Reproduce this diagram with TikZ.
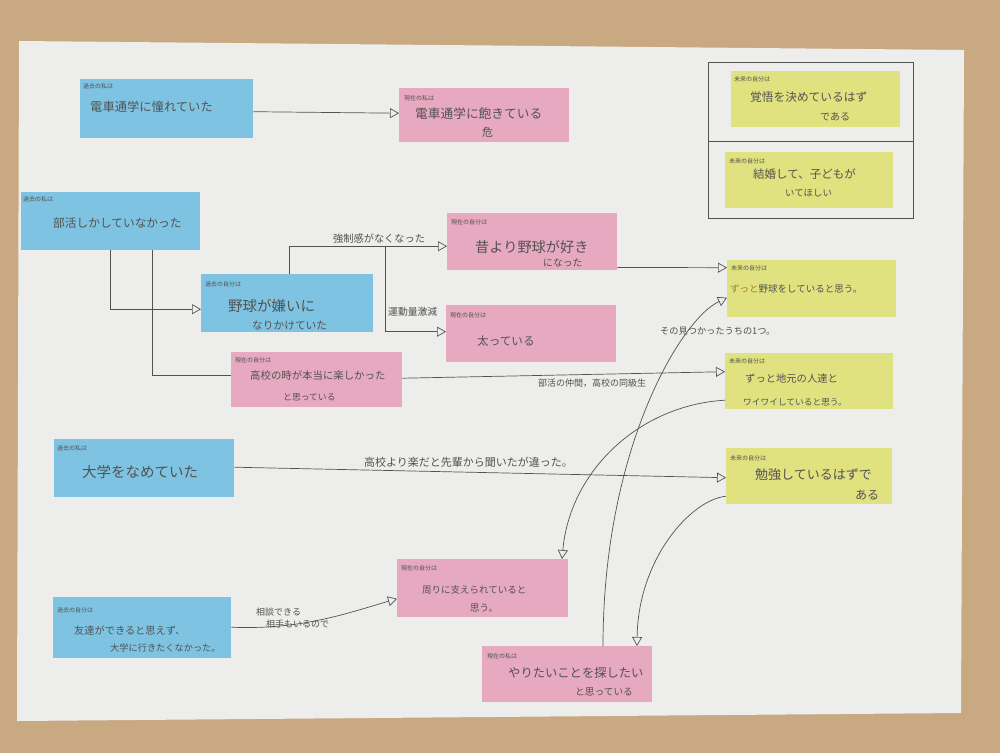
\documentclass[tikz,border=0pt]{standalone}
\usepackage{fontspec}
\newfontfamily\jp{Noto Sans CJK JP}
\usetikzlibrary{arrows.meta,calc}

\definecolor{table}{HTML}{C9A982}
\definecolor{paper}{HTML}{EDEDEB}
\definecolor{noteblue}{HTML}{7FC3E2}
\definecolor{notepink}{HTML}{E7A9C0}
\definecolor{noteyellow}{HTML}{E0E27F}
\definecolor{ink}{HTML}{525252}
\definecolor{amber}{HTML}{B07A30}

\tikzset{
  note/.style={anchor=north west, inner sep=0pt, draw=none},
  past/.style={note, fill=noteblue},
  now/.style={note, fill=notepink},
  future/.style={note, fill=noteyellow},
  tag/.style={anchor=west, inner sep=0pt, text=ink, font=\jp\fontsize{6}{6}\selectfont},
  say/.style={anchor=west, inner sep=0pt, text=ink, font=\jp\fontsize{#1}{#1}\selectfont},
  wire/.style={draw=ink, line width=0.7pt},
  flow/.style={wire, -{Triangle[open, length=9pt, width=10pt]}},
}

% sticky note: name, style, x, y (top-left), width, height
\newcommand\sticky[6]{\node[#2, minimum width=#5pt, minimum height=#6pt] (#1) at (#3,#4) {};}

\begin{document}
\begin{tikzpicture}[x=1pt, y=-1pt]
\useasboundingbox (0,0) rectangle (1000,753);
% table and sheet of paper
\fill[table] (0,0) rectangle (1000,753);
\fill[paper] (19,41) -- (964,50) -- (961,713) -- (17,721) -- cycle;

% frame around the two wishes
\node[note, draw=ink, line width=0.7pt, minimum width=205pt, minimum height=156pt] (frame) at (708,62) {};
\draw[wire] ($(frame.north west)+(0,79)$) -- ($(frame.north east)+(0,79)$);

% notes
\sticky{b1}{past}{80}{79}{173}{59}
\sticky{p1}{now}{399}{88}{170}{54}
\sticky{y1}{future}{731}{71}{169}{56}
\sticky{y2}{future}{725}{152}{168}{56}
\sticky{b2}{past}{21}{192}{179}{58}
\sticky{b3}{past}{201}{274}{172}{58}
\sticky{p2}{now}{447}{213}{170}{57}
\sticky{p3}{now}{446}{305}{170}{57}
\sticky{p4}{now}{231}{352}{171}{55}
\sticky{y3}{future}{727}{260}{169}{57}
\sticky{y4}{future}{725}{353}{168}{56}
\sticky{b4}{past}{54}{439}{180}{58}
\sticky{y5}{future}{726}{448}{166}{56}
\sticky{p5}{now}{397}{559}{171}{58}
\sticky{b5}{past}{53}{597}{178}{61}
\sticky{p6}{now}{482}{646}{170}{56}

% note texts
\node[tag] (b1a) at (83,86) {過去の私は};
\node[say=12.3] (b1b) at (90,107) {電車通学に憧れていた};
\node[tag] (p1a) at (404,98) {現在の私は};
\node[say=12.7] (p1b) at (415,114) {電車通学に飽きている};
\node[say=11] (p1c) at (482,132) {危};

\node[tag] (y1a) at (734,79) {未来の自分は};
\node[say=11.7] (y1b) at (750,97) {覚悟を決めているはず};
\node[say=10] (y1c) at (820,117) {である};
\node[tag] (y2a) at (729,161) {未来の自分は};
\node[say=11.5] (y2b) at (753,174) {結婚して、子どもが};
\node[say=9.4] (y2c) at (785,193) {いてほしい};

\node[tag] (b2a) at (23,199) {過去の私は};
\node[say=11.7] (b2b) at (53,223) {部活しかしていなかった};
\node[tag] (b3a) at (205,284) {過去の自分は};
\node[say=14.5] (b3b) at (228,306) {野球が嫌いに};
\node[say=10.7] (b3c) at (252,326) {なりかけていた};
\node[tag] (p2a) at (451,222) {現在の自分は};
\node[say=14.2] (p2b) at (475,247) {昔より野球が好き};
\node[say=9.8] (p2c) at (543,263) {になった};
\node[tag] (p3a) at (450,315) {現在の自分は};
\node[say=11.6] (p3b) at (477,341) {太っている};
\node[tag] (p4a) at (235,360) {現在の自分は};
\node[say=10.4] (p4b) at (250,376) {高校の時が本当に楽しかった};
\node[say=8.8] (p4c) at (283,397) {と思っている};

\node[tag] (y3a) at (731,268) {未来の自分は};
\node[say=9.5] (y3b) at (730,289) {\textcolor{amber}{ずっと}野球をしていると思う。};
\node[tag] (y4a) at (729,361) {未来の自分は};
\node[say=10.3] (y4b) at (745,379) {ずっと地元の人達と};
\node[say=8.7] (y4c) at (743,402) {ワイワイしていると思う。};

\node[tag] (b4a) at (57,448) {過去の私は};
\node[say=14.5] (b4b) at (82,472) {大学をなめていた};
\node[tag] (y5a) at (730,458) {未来の自分は};
\node[say=13] (y5b) at (755,475) {勉強しているはずで};
\node[say=12] (y5c) at (855,495) {ある};

\node[tag] (p5a) at (401,568) {現在の自分は};
\node[say=9.5] (p5b) at (422,590) {周りに支えられていると};
\node[say=9.5] (p5c) at (470,608) {思う。};
\node[tag] (b5a) at (57,610) {過去の自分は};
\node[say=10.2] (b5b) at (74,631) {友達ができると思えず、};
\node[say=9.2] (b5c) at (110,648) {大学に行きたくなかった。};
\node[tag] (p6a) at (487,656) {現在の私は};
\node[say=12.3] (p6b) at (508,673) {やりたいことを探したい};
\node[say=9.7] (p6c) at (575,692) {と思っている};

% connectors
\draw[flow] ($(b1.east)+(0,3)$) -- ($(p1.west)+(0,-2)$);
\draw[flow] ($(b2.south west)+(89,0)$) |- ($(b3.west)+(0,6)$);
\draw[wire] ($(b2.south west)+(131,0)$) |- ($(p4.west)+(0,-4.5)$);
\coordinate (fork) at (385,246);
\draw[flow] ($(b3.north west)+(88,0)$) |- ($(p2.west)+(0,4.5)$);
\draw[flow] (fork) |- ($(p3.west)+(0,-2)$);
\node[say=10.2] (lb1) at (333,239) {強制感がなくなった};
\node[say=9.8] (lb2) at (388,312) {運動量激減};

\draw[flow] ($(p2.south east)+(0,-3)$) -- ($(y3.west)+(0,-21)$);
\draw[flow] ($(p4.east)+(0,-1.5)$) -- ($(y4.west)+(0,-9.5)$);
\node[say=9] (lb3) at (538,383) {部活の仲間，高校の同級生};

\draw[flow] ($(b4.east)+(0,-1)$) -- ($(y5.west)+(0,1.5)$);
\node[say=11] (lb4) at (364,462) {高校より楽だと先輩から聞いたが違った。};

\draw[flow] ($(b5.east)+(0,-0.5)$) .. controls (300,630) and (345,614) .. ($(p5.west)+(0,10.5)$);
\node[say=9] (lb5) at (256,612) {相談できる};
\node[say=9] (lb6) at (266,624) {相手もいるので};

\draw[flow] ($(p6.north west)+(121,0)$) .. controls (603,450) and (680,320) .. ($(y3.west)+(0,9)$);
\node[say=9.2] (lb7) at (660,331) {その見つかったうちの1つ。};
\draw[flow] ($(y4.west)+(0,19)$) .. controls (640,405) and (570,470) .. ($(p5.north west)+(165,0)$);
\draw[flow] ($(y5.west)+(0,20)$) .. controls (690,500) and (638,560) .. ($(p6.north west)+(155,0)$);
\end{tikzpicture}
\end{document}
